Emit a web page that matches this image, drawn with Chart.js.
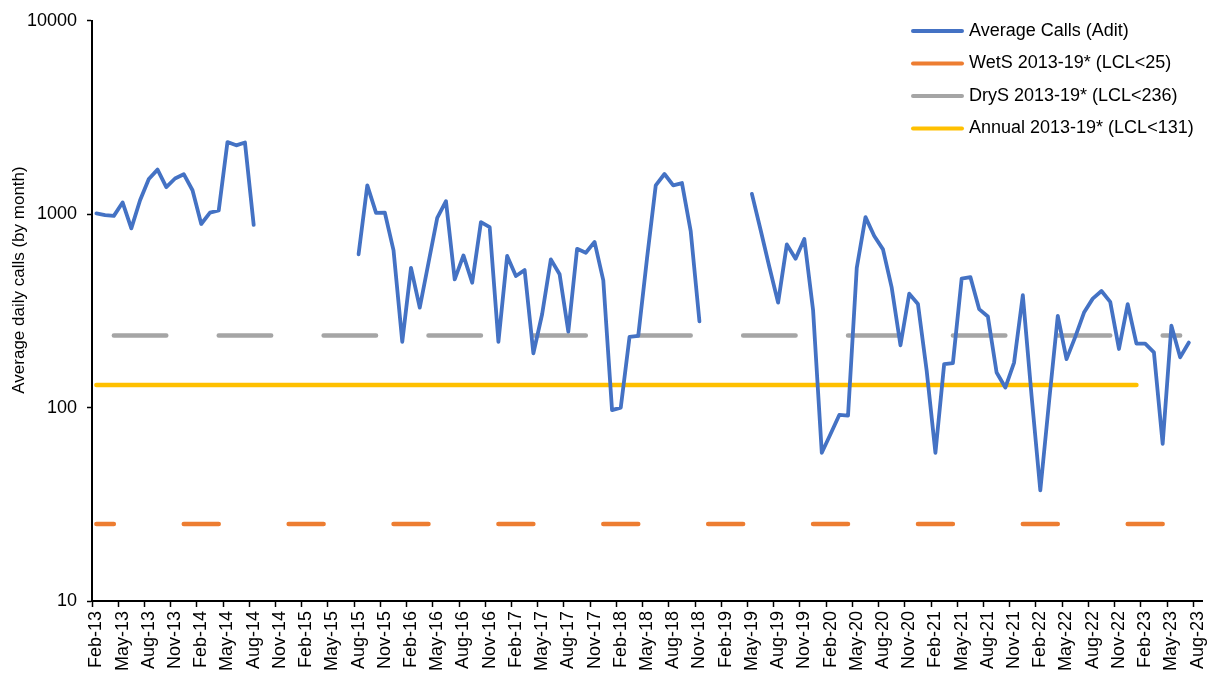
<!DOCTYPE html>
<html>
<head>
<meta charset="utf-8">
<script src="https://cdn.jsdelivr.net/npm/chart.js@4"></script>
<style>
  html, body { margin: 0; padding: 0; background: #fff; }
  canvas { display: block; }
</style>
</head>
<body>
<canvas id="chart" width="1212" height="675"></canvas>
<script>
const _ = null;

// months shown, Feb-13 .. Aug-23
const monthNames = ['Jan','Feb','Mar','Apr','May','Jun','Jul','Aug','Sep','Oct','Nov','Dec'];
const years = [13, 14, 15, 16, 17, 18, 19, 20, 21, 22, 23];
const firstMonth = 1;   // Feb-13
const lastMonth = 7;    // Aug-23

// Average Calls (Adit), one row per year
const avgCalls = [
  /*2013*/      1010, 990, 980, 1150, 845, 1180, 1520, 1700, 1380, 1530, 1610,
  /*2014*/ 1330, 890, 1020, 1045, 2360, 2270, 2350, 880, _, _, _, _,
  /*2015*/ _, _, _, _, _, _, _, 620, 1410, 1016, 1020, 650,
  /*2016*/ 219, 528, 329, 561, 957, 1167, 460, 612, 442, 910, 857, 219,
  /*2017*/ 608, 479, 514, 191, 304, 584, 489, 247, 662, 632, 719, 455,
  /*2018*/ 97, 100, 232, 235, 590, 1409, 1614, 1409, 1449, 817, 279, _,
  /*2019*/ _, _, _, _, 1273, 828, 533, 349, 698, 589, 745, 320,
  /*2020*/ 58.4, 73, 91.6, 91, 528, 966, 771, 658, 417, 210, 388, 343,
  /*2021*/ 155, 58.4, 168, 170, 464, 473, 323, 296, 152, 127, 171, 381,
  /*2022*/ 115, 37.3, 107, 298, 178, 232, 310, 366, 401, 352, 201, 343,
  /*2023*/ 214, 214, 193, 65, 265, 182, 217, _
];

// WetS 2013-19* (LCL<25), Dec-Apr
const wetS = [
  /*2013*/     25, 25, 25, _, _, _, _, _, _, _, 25,
  /*2014*/ 25, 25, 25, 25, _, _, _, _, _, _, _, 25,
  /*2015*/ 25, 25, 25, 25, _, _, _, _, _, _, _, 25,
  /*2016*/ 25, 25, 25, 25, _, _, _, _, _, _, _, 25,
  /*2017*/ 25, 25, 25, 25, _, _, _, _, _, _, _, 25,
  /*2018*/ 25, 25, 25, 25, _, _, _, _, _, _, _, 25,
  /*2019*/ 25, 25, 25, 25, _, _, _, _, _, _, _, 25,
  /*2020*/ 25, 25, 25, 25, _, _, _, _, _, _, _, 25,
  /*2021*/ 25, 25, 25, 25, _, _, _, _, _, _, _, 25,
  /*2022*/ 25, 25, 25, 25, _, _, _, _, _, _, _, 25,
  /*2023*/ 25, 25, 25, 25, _, _, _, _
];

// DryS 2013-19* (LCL<236), May-Nov
const dryS = [
  /*2013*/    _, _, 236, 236, 236, 236, 236, 236, 236, _,
  /*2014*/ _, _, _, _, 236, 236, 236, 236, 236, 236, 236, _,
  /*2015*/ _, _, _, _, 236, 236, 236, 236, 236, 236, 236, _,
  /*2016*/ _, _, _, _, 236, 236, 236, 236, 236, 236, 236, _,
  /*2017*/ _, _, _, _, 236, 236, 236, 236, 236, 236, 236, _,
  /*2018*/ _, _, _, _, 236, 236, 236, 236, 236, 236, 236, _,
  /*2019*/ _, _, _, _, 236, 236, 236, 236, 236, 236, 236, _,
  /*2020*/ _, _, _, _, 236, 236, 236, 236, 236, 236, 236, _,
  /*2021*/ _, _, _, _, 236, 236, 236, 236, 236, 236, 236, _,
  /*2022*/ _, _, _, _, 236, 236, 236, 236, 236, 236, 236, _,
  /*2023*/ _, _, _, _, 236, 236, 236, _
];

// Annual 2013-19* (LCL<131), Feb-13 .. Jan-23
const annual = [
  /*2013*/      131, 131, 131, 131, 131, 131, 131, 131, 131, 131, 131,
  /*2014*/ 131, 131, 131, 131, 131, 131, 131, 131, 131, 131, 131, 131,
  /*2015*/ 131, 131, 131, 131, 131, 131, 131, 131, 131, 131, 131, 131,
  /*2016*/ 131, 131, 131, 131, 131, 131, 131, 131, 131, 131, 131, 131,
  /*2017*/ 131, 131, 131, 131, 131, 131, 131, 131, 131, 131, 131, 131,
  /*2018*/ 131, 131, 131, 131, 131, 131, 131, 131, 131, 131, 131, 131,
  /*2019*/ 131, 131, 131, 131, 131, 131, 131, 131, 131, 131, 131, 131,
  /*2020*/ 131, 131, 131, 131, 131, 131, 131, 131, 131, 131, 131, 131,
  /*2021*/ 131, 131, 131, 131, 131, 131, 131, 131, 131, 131, 131, 131,
  /*2022*/ 131, 131, 131, 131, 131, 131, 131, 131, 131, 131, 131, 131,
  /*2023*/ 131, _, _, _, _, _, _, _
];

const yTicks = [10, 100, 1000, 10000];
const yTitle = 'Average daily calls (by month)';

// build the month labels
let labels = [];
years.forEach((yy, k) => {
    let from = k === 0 ? firstMonth : 0;
    let to = k === years.length - 1 ? lastMonth : 11;
    for (let m = from; m <= to; m++) {
        labels.push(monthNames[m] + '-' + yy);
    }
});

const FONT = '"Liberation Sans", Arial, sans-serif';
Chart.defaults.font.family = FONT;
Chart.defaults.color = '#000';

// legend in the top right corner of the plot + y title a bit above the middle (like excel)
const cornerLegend = {
    id: 'cornerLegend',
    afterDraw(chart) {
        const ctx = chart.ctx;
        ctx.save();
        ctx.font = '18px ' + FONT;
        ctx.textBaseline = 'middle';
        chart.data.datasets.forEach((ds, k) => {
            let y = 31 + k * 32.5;
            ctx.strokeStyle = ds.borderColor;
            ctx.lineWidth = 4;
            ctx.lineCap = 'round';
            ctx.beginPath();
            ctx.moveTo(913, y);
            ctx.lineTo(962, y);
            ctx.stroke();
            ctx.fillStyle = '#000';
            ctx.fillText(ds.label, 969, y);
        });
        ctx.translate(19, 280);
        ctx.rotate(-Math.PI / 2);
        ctx.font = '17px ' + FONT;
        ctx.textAlign = 'center';
        ctx.fillText(yTitle, 0, 0);
        ctx.restore();
    }
};

function refLine(label, data, color) {
    return {
        label: label,
        data: data,
        borderColor: color,
        backgroundColor: color,
        borderWidth: 4.5,
        borderCapStyle: 'round',
        pointRadius: 0,
        fill: false,
        spanGaps: false
    };
}

var chart = new Chart(document.getElementById('chart').getContext('2d'), {
    type: 'line',
    data: {
        labels: labels,
        datasets: [
            {
                label: 'Average Calls (Adit)',
                data: avgCalls,
                borderColor: '#4472C4',
                backgroundColor: '#4472C4',
                borderWidth: 3.8,
                borderJoinStyle: 'round',
                borderCapStyle: 'round',
                pointRadius: 0,
                fill: false,
                spanGaps: false
            },
            refLine('WetS 2013-19* (LCL<25)', wetS, '#ED7D31'),
            refLine('DryS 2013-19* (LCL<236)', dryS, '#A5A5A5'),
            refLine('Annual 2013-19* (LCL<131)', annual, '#FFC000')
        ]
    },
    options: {
        responsive: false,
        animation: false,
        layout: { padding: { top: 19, right: 10, bottom: 0, left: 0 } },
        plugins: {
            legend: { display: false },
            tooltip: { enabled: false }
        },
        scales: {
            x: {
                type: 'category',
                offset: true,
                border: { display: true, color: '#000', width: 2 },
                grid: {
                    offset: true,
                    drawOnChartArea: false,
                    drawTicks: true,
                    tickLength: 6,
                    tickWidth: 1.5,
                    tickColor: (c) => (c.index % 3 === 0 ? '#000' : 'rgba(0,0,0,0)')
                },
                ticks: {
                    autoSkip: false,
                    maxRotation: 90,
                    minRotation: 90,
                    padding: 4,
                    font: { size: 18 },
                    callback: function (v, i) { return i % 3 === 0 ? this.getLabelForValue(v) : ''; }
                },
                afterFit: (s) => { s.height = 74; s.paddingLeft = 0; s.paddingRight = 0; }
            },
            y: {
                type: 'logarithmic',
                min: 10,
                max: 10000,
                border: { display: true, color: '#000', width: 2 },
                grid: {
                    drawOnChartArea: false,
                    drawTicks: true,
                    tickLength: 5,
                    tickWidth: 1.5,
                    tickColor: '#000'
                },
                afterBuildTicks: (s) => { s.ticks = yTicks.map(v => ({ value: v })); },
                ticks: {
                    padding: 10,
                    font: { size: 18 },
                    callback: (v) => String(v)
                },
                afterFit: (s) => { s.width = 92; }
            }
        }
    },
    plugins: [cornerLegend]
});
</script>
</body>
</html>
